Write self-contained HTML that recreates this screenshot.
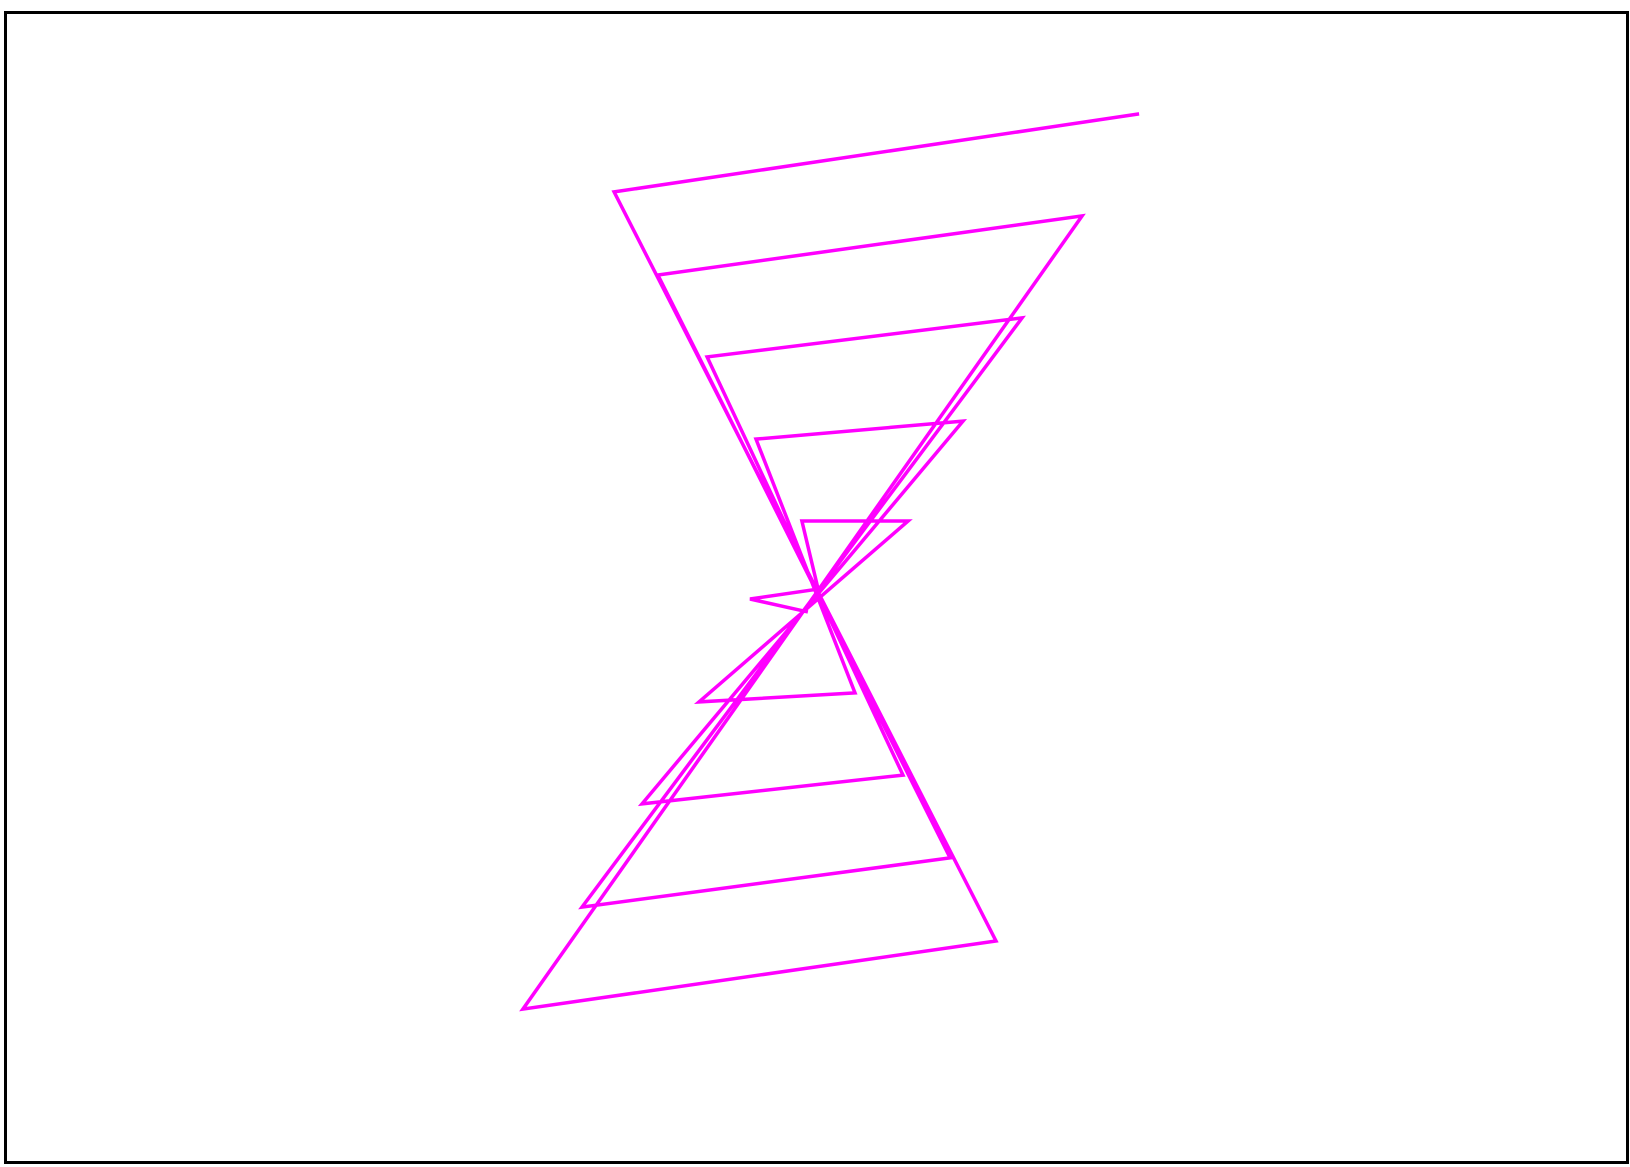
<!DOCTYPE html>
<html><head><meta charset="utf-8"><style>
html,body{margin:0;padding:0;background:#fff;}
svg{display:block;}
</style></head><body>
<svg id="chart" width="1630" height="1167" viewBox="0 0 1630 1167" xmlns="http://www.w3.org/2000/svg">
<rect x="5.5" y="12.5" width="1622" height="1150" fill="#fff" stroke="#000" stroke-width="3"/>
<g id="series"></g>
</svg>
<script>
const xValues = [10.77,-6.73,6.0,-9.77,8.87,-5.27,4.47,-7.8,6.87,-3.63,2.9,-5.8,4.9,-2.0,1.3,-3.9,3.07,-0.47,0.07,-2.2,-0.27];
const yValues = [15.77,13.17,-11.8,-14.07,12.37,10.4,-9.03,-10.67,8.97,7.67,-6.27,-7.23,5.53,4.93,-3.53,-3.83,2.2,2.2,-0.07,-0.4,-0.83];
function xScale(v){return 816+v*30;}
function yScale(v){return 587-v*30;}
const g=document.getElementById('series');
const pts=xValues.map((x,i)=>xScale(x).toFixed(1)+','+yScale(yValues[i]).toFixed(1)).join(' ');
const pl=document.createElementNS('http://www.w3.org/2000/svg','polyline');


pl.setAttribute('points',pts);
pl.setAttribute('fill','none');
pl.setAttribute('stroke','#ff00ff');
pl.setAttribute('stroke-width','3.5');
pl.setAttribute('stroke-linejoin','miter');
g.appendChild(pl);
</script>
</body></html>
